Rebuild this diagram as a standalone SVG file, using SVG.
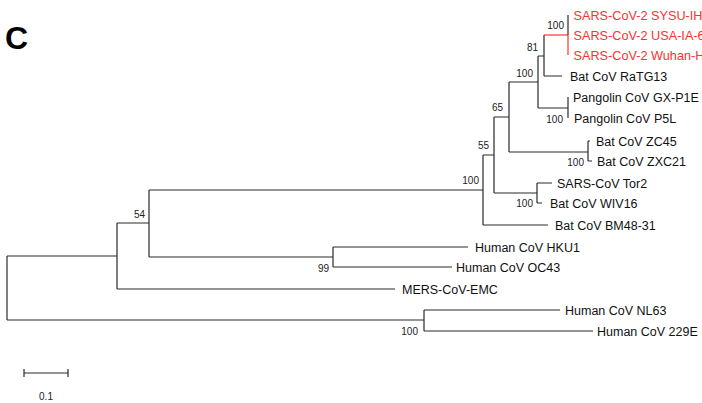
<svg xmlns="http://www.w3.org/2000/svg" width="702" height="403" viewBox="0 0 702 403">
<style>
  .br { fill: none; stroke: #2a2a2a; stroke-width: 1.2; }
  .red { fill: none; stroke: #ff3333; stroke-width: 1.2; }
  .tip { font-family: "Liberation Sans", Arial, sans-serif; font-size: 12.5px; fill: #111; }
  .tip.cov2 { fill: #ff2f2f; font-size: 12.7px; }
  .bs { font-family: "Liberation Sans", Arial, sans-serif; font-size: 10px; fill: #222; text-anchor: end; }
</style>
<rect width="702" height="403" fill="#fff"/>
<text x="5" y="48.5" font-family="Liberation Sans, Arial, sans-serif" font-size="32" font-weight="bold" fill="#000">C</text>

<g id="connectors">
  <!-- root -->
  <path class="br" d="M7 256V320M7 256H117M7 320H424"/>
  <!-- node 54 -->
  <path class="br" d="M117 223V289M117 223H149M117 289H395"/>
  <!-- node at 149 -->
  <path class="br" d="M149 190V257M149 190H483M149 257H333"/>
  <!-- node 99 -->
  <path class="br" d="M333 247V267M333 247H468M333 267H452"/>
  <!-- node 424 -->
  <path class="br" d="M424 310V331M424 310H560M424 331H593"/>
  <!-- node 483 -->
  <path class="br" d="M483 155V225M483 155H494M483 225H548"/>
  <!-- node 494 -->
  <path class="br" d="M494 117V193M494 117H509M494 193H537"/>
  <!-- node 537 -->
  <path class="br" d="M537 183V203M537 183H552M537 203H542"/>
  <!-- node 509 -->
  <path class="br" d="M509 82V152M509 82H538M509 152H588"/>
  <!-- node 588 -->
  <path class="br" d="M588 141V161M588 141H590M588 161H592"/>
  <!-- node 538 -->
  <path class="br" d="M538 56V108M538 56H544M538 108H568"/>
  <!-- node pangolin -->
  <path class="br" d="M568 97V118"/>
  <!-- node 81 -->
  <path class="br" d="M544 35V76M544 76H562"/>
  <path class="red" d="M544 35H568"/>
  <!-- SARS-CoV-2 clade -->
  <path class="br" d="M568 15V35"/>
  <path class="red" d="M568 35V55"/>
</g>

<g id="n-sysu"><text class="tip cov2" x="573.5" y="19.5">SARS-CoV-2 SYSU-IH</text></g>
<g id="n-usa"><text class="tip cov2" x="573.5" y="39.5">SARS-CoV-2 USA-IA-6</text></g>
<g id="n-wuhan"><text class="tip cov2" x="573.5" y="59.5">SARS-CoV-2 Wuhan-H</text></g>
<g id="n-ratg13"><text class="tip" x="570" y="81">Bat CoV RaTG13</text></g>
<g id="n-gxp1e"><text class="tip" x="573" y="101.5">Pangolin CoV GX-P1E</text></g>
<g id="n-p5l"><text class="tip" x="574" y="122.5">Pangolin CoV P5L</text></g>
<g id="n-zc45"><text class="tip" x="596" y="145.5">Bat CoV ZC45</text></g>
<g id="n-zxc21"><text class="tip" x="597" y="165.5">Bat CoV ZXC21</text></g>
<g id="n-tor2"><text class="tip" x="557" y="187.5">SARS-CoV Tor2</text></g>
<g id="n-wiv16"><text class="tip" x="550" y="207.5">Bat CoV WIV16</text></g>
<g id="n-bm4831"><text class="tip" x="555" y="229.5">Bat CoV BM48-31</text></g>
<g id="n-hku1"><text class="tip" x="475" y="251.5">Human CoV HKU1</text></g>
<g id="n-oc43"><text class="tip" x="456" y="271.5">Human CoV OC43</text></g>
<g id="n-mers"><text class="tip" x="402" y="293.5">MERS-CoV-EMC</text></g>
<g id="n-nl63"><text class="tip" x="565" y="314.5">Human CoV NL63</text></g>
<g id="n-229e"><text class="tip" x="597" y="335.5">Human CoV 229E</text></g>

<g id="i-cov2"><text class="bs" x="564" y="29">100</text></g>
<g id="i-81"><text class="bs" x="538" y="50.5">81</text></g>
<g id="i-538"><text class="bs" x="533" y="76.5">100</text></g>
<g id="i-pangolin"><text class="bs" x="563" y="123">100</text></g>
<g id="i-65"><text class="bs" x="503" y="110.5">65</text></g>
<g id="i-zc"><text class="bs" x="584" y="165.5">100</text></g>
<g id="i-55"><text class="bs" x="489" y="149">55</text></g>
<g id="i-483"><text class="bs" x="479" y="184">100</text></g>
<g id="i-537"><text class="bs" x="533" y="207">100</text></g>
<g id="i-54"><text class="bs" x="145" y="218">54</text></g>
<g id="i-99"><text class="bs" x="329" y="272">99</text></g>
<g id="i-424"><text class="bs" x="418" y="335">100</text></g>

<g id="scale">
  <path class="br" d="M24 373H68M24 369V377M68 369V377"/>
  <text x="46" y="400" font-family="Liberation Sans, Arial, sans-serif" font-size="10" fill="#222" text-anchor="middle">0.1</text>
</g>
</svg>
